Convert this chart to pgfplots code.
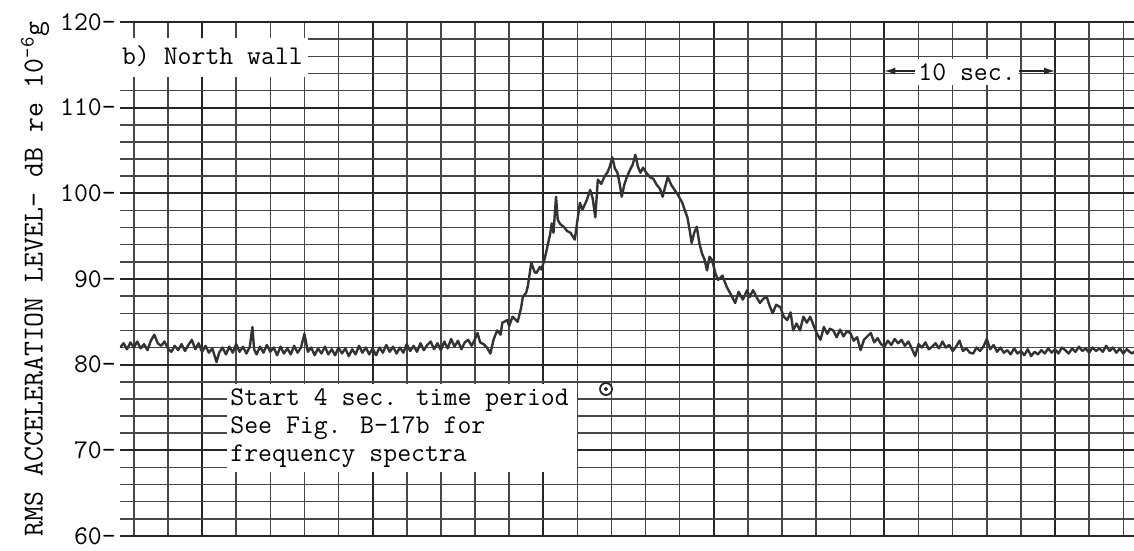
\documentclass[border=0pt]{standalone}
\usepackage{pgfplots}
\pgfplotsset{compat=1.18}
\usepackage{pgfplotstable}
\usepackage{fontspec}
\usetikzlibrary{arrows.meta}

\pgfplotstableread{
t db
5.2 82.0
5.4 82.5
5.6 81.8
5.8 82.6
6.0 82.0
6.2 82.7
6.4 81.9
6.6 82.4
6.8 81.7
7.0 82.8
7.2 83.5
7.4 82.5
7.6 82.2
7.8 82.7
8.0 81.9
8.2 81.5
8.4 82.2
8.6 81.7
8.8 82.4
9.0 81.6
9.2 82.3
9.4 82.9
9.6 81.8
9.8 82.5
10.0 81.5
10.2 82.2
10.4 81.4
10.6 81.9
10.85 80.3
11.0 81.4
11.2 82.0
11.4 81.2
11.6 82.1
11.8 81.4
12.0 82.4
12.2 81.5
12.4 82.1
12.6 81.3
12.8 82.1
12.95 84.4
13.05 81.8
13.2 81.2
13.4 82.1
13.6 81.4
13.8 82.3
14.0 81.5
14.2 82.0
14.4 81.1
14.6 82.1
14.8 81.3
15.0 81.9
15.2 81.2
15.4 82.2
15.6 81.4
15.8 82.0
16.0 83.6
16.2 81.5
16.4 82.0
16.6 81.1
16.8 81.9
17.0 81.3
17.2 82.1
17.4 81.2
17.6 81.8
17.8 81.1
18.0 82.0
18.2 81.3
18.4 81.9
18.6 81.0
18.8 81.8
19.0 81.2
19.2 82.2
19.4 81.4
19.6 82.0
19.8 81.2
20.0 81.9
20.2 81.1
20.4 82.0
20.6 81.4
20.8 82.3
21.0 81.5
21.2 82.1
21.4 81.3
21.6 82.0
21.8 81.4
22.0 82.4
22.2 81.6
22.4 82.2
22.6 81.5
22.8 82.5
23.0 81.7
23.2 82.3
23.4 82.7
23.6 81.8
23.8 82.5
24.0 81.7
24.2 82.7
24.4 81.9
24.6 83.0
24.8 82.1
25.0 82.8
25.2 81.8
25.4 82.6
25.6 82.9
25.8 82.2
26.0 83.0
26.15 83.7
26.3 82.6
26.5 82.4
26.7 82.0
26.9 81.3
27.1 83.0
27.3 84.0
27.5 83.5
27.6 84.9
27.9 85.2
28.0 84.5
28.2 85.6
28.5 85.0
28.7 86.6
28.8 87.9
29.0 88.4
29.1 89.2
29.3 91.9
29.5 90.8
29.6 90.7
29.8 91.4
29.9 91.1
30.1 92.5
30.2 93.4
30.4 95.2
30.5 96.5
30.6 95.4
30.75 99.6
30.85 96.9
31.0 96.4
31.2 96.1
31.4 95.6
31.6 95.4
31.85 94.6
32.0 96.8
32.15 98.9
32.3 98.1
32.55 99.2
32.75 100.4
32.9 99.4
33.05 97.2
33.2 101.6
33.4 101.1
33.6 102.0
33.75 102.4
33.9 103.1
34.05 104.2
34.2 102.9
34.35 102.4
34.5 100.9
34.6 99.6
34.75 101.0
34.9 101.9
35.1 102.8
35.25 103.4
35.4 104.5
35.55 103.1
35.7 102.4
35.85 103.0
36.0 102.5
36.25 101.9
36.45 101.7
36.65 101.0
36.85 100.5
37.0 99.6
37.15 100.8
37.3 101.9
37.5 101.0
37.7 100.4
37.9 99.8
38.15 98.9
38.3 98.0
38.45 97.2
38.6 95.5
38.7 94.2
38.85 95.4
39.0 96.1
39.15 94.2
39.3 93.0
39.45 92.3
39.6 91.0
39.75 92.6
39.9 92.2
40.1 90.6
40.25 89.9
40.5 90.4
40.75 89.1
41.0 88.2
41.25 87.2
41.45 88.5
41.7 87.6
41.95 88.7
42.1 87.9
42.3 88.7
42.5 87.9
42.7 87.2
42.9 87.7
43.1 87.9
43.3 86.7
43.45 86.0
43.65 87.0
43.9 86.7
44.1 85.6
44.3 85.2
44.5 86.1
44.65 84.0
44.85 84.8
45.05 84.0
45.25 85.6
45.45 84.9
45.65 85.6
45.9 84.3
46.05 83.6
46.25 82.9
46.45 84.4
46.65 83.6
46.8 84.2
47.0 84.0
47.2 83.2
47.4 84.1
47.6 83.3
47.8 83.9
48.0 83.7
48.2 82.8
48.4 83.2
48.6 81.7
48.8 82.9
49.0 83.3
49.2 83.7
49.4 82.6
49.6 83.1
49.8 82.4
50.0 82.1
50.2 82.8
50.4 82.3
50.6 83.0
50.8 82.5
51.0 82.9
51.2 82.2
51.4 82.7
51.6 81.9
51.8 81.0
52.0 82.4
52.2 82.0
52.4 82.6
52.6 81.8
52.8 82.1
53.0 82.5
53.2 81.9
53.4 82.7
53.6 82.0
53.8 82.3
54.0 81.6
54.2 82.1
54.4 82.8
54.6 81.6
54.8 81.9
55.0 81.4
55.2 81.3
55.4 82.0
55.6 81.6
55.8 82.1
56.0 83.0
56.2 81.8
56.4 82.3
56.6 81.5
56.8 82.0
57.0 81.4
57.2 81.7
57.4 81.2
57.6 81.9
57.8 81.3
58.0 81.6
58.2 81.1
58.4 81.8
58.6 81.0
58.8 81.5
59.0 81.2
59.2 81.7
59.4 81.3
59.6 81.9
59.8 81.4
60.0 81.8
60.2 81.3
60.4 82.0
60.6 81.7
60.8 81.3
61.0 81.9
61.2 81.5
61.4 82.1
61.6 81.6
61.8 81.9
62.0 81.4
62.2 82.0
62.4 81.6
62.6 81.9
62.8 81.5
63.0 82.2
63.2 81.6
63.4 82.0
63.6 81.4
63.8 81.9
64.0 81.3
64.2 81.8
64.5 81.3
64.7 81.6
}\trace

\newcommand{\tw}{\ttfamily\fontsize{27}{31}\selectfont}

\begin{document}
\begin{tikzpicture}
\begin{axis}[
  scale only axis, width=1014pt, height=514pt,
  xmin=5.19, xmax=64.63, ymin=60, ymax=120,
  axis line style={draw=none},
  xtick={10,20,...,60}, minor xtick={6,8,...,64}, xticklabels={},
  ytick={60,70,...,120}, minor ytick={62,64,...,118},
  major tick length=0pt, minor tick length=0pt,
  grid=both,
  major grid style={black!85, line width=2.0pt},
  minor grid style={black!72, line width=1.5pt},
  /pgf/number format/assume math mode=true,
  yticklabel={\pgfmathprintnumber{\tick}-},
  yticklabel style={font=\tw, anchor=east, inner sep=0pt, xshift=-4pt},
  ylabel={RMS ACCELERATION LEVEL- dB re 10\textsuperscript{-6}g},
  ylabel style={font=\ttfamily\fontsize{29}{32}\selectfont, at={(axis description cs:-0.0838,0.5)}, anchor=center},
]
\coordinate (bl) at (rel axis cs:0,0);
\addplot[black!80, line width=2.4pt, line join=round] table[x=t, y=db] {\trace};

% title box
\fill[white] (axis cs:5.19,118.1) rectangle (axis cs:16.2,113.6);
\node[anchor=base west, inner sep=0pt, font=\tw] at (axis cs:5.3,115.0) {b) North wall};

% 10 sec. marker
\draw[{Latex[length=11pt,width=7pt]}-{Latex[length=11pt,width=7pt]}, line width=1.4pt, black!85] (axis cs:50,114.28) -- (axis cs:60,114.28);
\node[fill=white, inner xsep=3pt, inner ysep=4pt, anchor=base west, font=\tw] at (axis cs:51.8,113.2) {10 sec.};

% lower text box
\fill[white] (axis cs:11.47,77.8) rectangle (axis cs:31.98,67.47);
\node[anchor=base west, inner sep=0pt, font=\tw] at (axis cs:11.65,75.29) {Start 4 sec. time period};
\node[anchor=base west, inner sep=0pt, font=\tw] at (axis cs:11.65,72.02) {See Fig. B-17b for};
\node[anchor=base west, inner sep=0pt, font=\tw] at (axis cs:11.65,68.75) {frequency spectra};

% start marker
\addplot[only marks, mark=*, mark size=6pt, mark options={fill=white, draw=black!85, line width=1.8pt}] coordinates {(33.68,77.16)};
\addplot[only marks, mark=*, mark size=1.8pt, black!85] coordinates {(33.68,77.16)};
\end{axis}
\pgfresetboundingbox
\path (bl) ++(-120pt,-14pt) rectangle ++(1134pt,550pt);
\end{tikzpicture}
\end{document}
